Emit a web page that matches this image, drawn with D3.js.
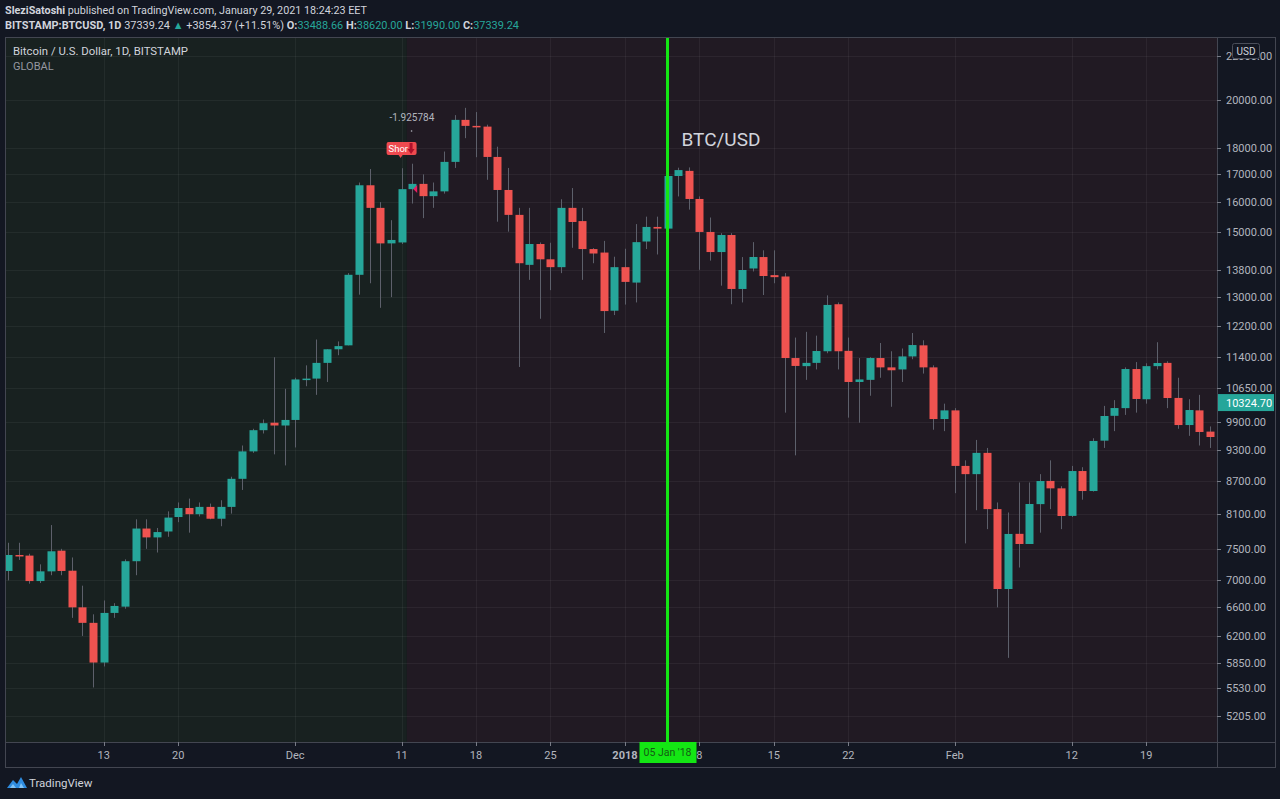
<!DOCTYPE html>
<html><head><meta charset="utf-8">
<script src="https://cdn.jsdelivr.net/npm/d3@7"></script>
<style>html,body{margin:0;padding:0;background:#131722;overflow:hidden}svg{display:block}</style>
</head><body>
<svg id="c" width="1280" height="799"></svg>
<script>
// ---- data ----
const startDate = "2017-11-04", endDate = "2018-02-25";
const opens  = [7146,7400,7390,6990,7140,7470,7150,6600,6380,5850,6520,6610,7300,7840,7690,7790,8040,8200,8090,8220,8010,8220,8740,9280,9720,9880,9820,9940,10860,10880,11260,11600,11700,13650,16600,15800,14620,14650,16460,16650,16210,16380,17470,19150,18900,18870,17660,16430,15560,13950,14600,14120,13880,15800,15350,14440,14330,12620,13880,13420,14680,15155,15100,16940,17130,16110,14990,14346,14890,13234,13840,14190,13640,13600,11380,11180,11260,11550,12800,11560,10800,10850,11380,11150,11100,11420,11700,11150,9960,10150,8990,8830,9250,8180,6870,7750,7580,8270,8700,8560,8060,8890,8510,9500,10030,10200,11110,10400,11180,11260,10430,9830,10150,9690];
const highs  = [7600,7600,7420,7250,7900,7500,7360,6920,6500,6700,6660,7330,8000,8000,7850,8140,8300,8370,8300,8280,8340,8780,9400,9750,9950,11400,10640,10900,11200,11850,11600,11800,13700,16700,17200,16000,15380,17230,17400,17000,16700,17870,19350,19660,19480,18950,18060,17240,15800,15800,14650,14640,16100,16500,15800,14470,14700,14200,14450,15250,15500,15500,17100,17250,17260,16200,15470,14950,14950,14190,14660,14400,14400,13700,11900,12050,11950,13050,12850,11900,11380,11400,11760,11550,11620,12020,11830,11200,10300,10200,9100,9515,9350,8300,8120,8670,8670,8830,9100,8600,8990,8965,9550,10250,10380,11150,11280,11250,11780,11300,10900,10400,10500,9800];
const lows   = [7000,7320,6950,6960,7080,7080,6450,6200,5540,5800,6450,6580,7080,7500,7440,7700,7950,7770,8050,8000,7880,8100,8530,9250,9650,9220,9000,9360,10700,10500,10800,11450,11700,13070,13400,12700,13000,14600,15950,15450,15800,16300,17240,18400,17650,16800,15330,15000,11160,13500,12400,13200,13700,14480,13500,14000,12020,12500,12790,12850,14440,14270,14750,16200,15740,13800,14080,13330,12800,12850,13750,13060,13400,10100,9200,10850,11100,11500,11100,9990,9880,10480,10900,10230,10800,11350,11000,9730,9700,8470,7590,8160,7830,6600,5910,7200,7580,7770,8180,7830,8040,8350,8500,9350,9700,10050,10100,10300,11100,10200,9750,9600,9400,9350];
const closes = [7400,7380,6990,7140,7460,7146,6600,6380,5850,6520,6620,7300,7840,7690,7780,8030,8200,8090,8220,8010,8220,8740,9280,9720,9870,9820,9940,10860,10880,11260,11600,11680,13650,16600,15800,14620,14730,16460,16650,16210,16380,17470,19150,18900,18860,17660,16430,15560,14000,14600,14120,13880,15800,15320,14440,14300,12610,13880,13440,14660,15155,15100,16940,17160,16110,14990,14346,14890,13234,13794,14192,13614,13580,11380,11185,11260,11556,12780,11550,10800,10860,11380,11150,11080,11420,11708,11150,9960,10150,8990,8830,9250,8180,6870,7748,7580,8272,8698,8560,8058,8890,8510,9494,10026,10202,11110,10406,11180,11257,10428,9830,10158,9682,9576];
const priceTicks = [22000,20000,18000,17000,16000,15000,13800,13000,12200,11400,10650,9900,9300,8700,8100,7500,7000,6600,6200,5850,5530,5205];
const dateTicks  = ["2017-11-13","2017-11-20","2017-12-01","2017-12-11","2017-12-18","2017-12-25","2018-01-01","2018-01-08","2018-01-15","2018-01-22","2018-02-01","2018-02-12","2018-02-19"];
const dateTickLabels = ["13","20","Dec","11","18","25","2018","8","15","22","Feb","12","19"];
const markerDate = "2018-01-05", markerLabel = "05 Jan '18";
const splitDate = "2017-12-11";
const lastPrice = 10324.70;
const shortDate = "2017-12-11", shortValue = "-1.925784";

// ---- layout ----
const P = {l:5, r:1217, t:37, b:742, axisB:767, outerR:1275};
const parse = d3.utcParse("%Y-%m-%d");
const days = d3.utcDay.range(parse(startDate), d3.utcDay.offset(parse(endDate),1));
const x = d3.scaleUtc().domain([parse(startDate), parse(endDate)]).range([8, 1210]);
const y = d3.scaleLog().domain([5205, 20000]).range([716, 100]);
const step = x(d3.utcDay.offset(parse(startDate),1)) - x(parse(startDate));
const UP = "#26a69a", DN = "#ef5350";
const svg = d3.select("#c");
const FONT = "Roboto, 'Liberation Sans', sans-serif";

svg.append("rect").attr("width",1280).attr("height",799).attr("fill","#131722");
const splitX = x(parse(splitDate)) + step/2;
svg.append("rect").attr("x",P.l).attr("y",P.t).attr("width",splitX-P.l).attr("height",P.b-P.t).attr("fill","#182120");
svg.append("rect").attr("x",splitX).attr("y",P.t).attr("width",P.r-splitX).attr("height",P.b-P.t).attr("fill","#211a23");

svg.append("clipPath").attr("id","pane").append("rect").attr("x",P.l).attr("y",P.t).attr("width",P.r-P.l).attr("height",P.b-P.t);
const pane = svg.append("g").attr("clip-path","url(#pane)");

// grid
pane.selectAll(".hg").data(priceTicks).join("line")
  .attr("x1",P.l).attr("x2",P.r).attr("y1",d=>Math.round(y(d))+0.5).attr("y2",d=>Math.round(y(d))+0.5)
  .attr("stroke","rgba(255,255,255,0.05)");
pane.selectAll(".vg").data(dateTicks).join("line")
  .attr("x1",d=>Math.round(x(parse(d)))+0.5).attr("x2",d=>Math.round(x(parse(d)))+0.5).attr("y1",P.t).attr("y2",P.b)
  .attr("stroke","rgba(255,255,255,0.05)");

// candles
const candles = days.map((d,i)=>({d,o:opens[i],h:highs[i],l:lows[i],c:closes[i]}));
const bw = 8;
pane.selectAll(".wick").data(candles).join("line")
  .attr("x1",d=>Math.round(x(d.d))+0.5).attr("x2",d=>Math.round(x(d.d))+0.5)
  .attr("y1",d=>y(d.h)).attr("y2",d=>y(d.l)).attr("stroke","#5d606b").attr("stroke-width",1);
pane.selectAll(".body").data(candles).join("rect")
  .attr("x",d=>Math.round(x(d.d))-bw/2+0.5).attr("width",bw)
  .attr("y",d=>y(Math.max(d.o,d.c))).attr("height",d=>Math.max(1.5,Math.abs(y(d.o)-y(d.c))))
  .attr("fill",d=>d.c>=d.o?UP:DN);

// green vertical marker
const mx = x(parse(markerDate));
pane.append("line").attr("x1",mx).attr("x2",mx).attr("y1",P.t).attr("y2",P.b).attr("stroke","#14e614").attr("stroke-width",3);

// BTC/USD text
svg.append("text").attr("x",mx+14).attr("y",146).attr("fill","#d1d4dc").attr("font-family",FONT).attr("font-size",19).text("BTC/USD");

// short signal
const sx = x(parse(shortDate));
svg.append("text").attr("x",sx-12).attr("y",121).attr("fill","#b2b5be").attr("font-family",FONT).attr("font-size",10).text(shortValue);
svg.append("circle").attr("cx",sx+10).attr("cy",131).attr("r",0.8).attr("fill","#b2b5be");
svg.append("rect").attr("x",sx-15).attr("y",142).attr("width",30).attr("height",13).attr("rx",2).attr("fill","#ef4a4f");
svg.append("path").attr("d",`M${sx-3},155 L${sx+1},155 L${sx-1},158 Z`).attr("fill","#ef4a4f");
svg.append("text").attr("x",sx-13).attr("y",152).attr("fill","#fff").attr("font-family",FONT).attr("font-size",9.5).text("Shor");
svg.append("path").attr("d",`M${sx+8},143 L${sx+11},143 L${sx+11},149 L${sx+13},149 L${sx+9.5},154 L${sx+6},149 L${sx+8},149 Z`).attr("fill","#b0102a");
const tx = x(parse(shortDate))+step;
svg.append("path").attr("d",`M${tx+5},185 L${tx+1},189 L${tx+5},193 Z`).attr("fill","#e91e63");

// pane borders
svg.append("rect").attr("x",P.l+0.5).attr("y",P.t+0.5).attr("width",P.outerR-P.l).attr("height",P.axisB-P.t).attr("fill","none").attr("stroke","#434651");
svg.append("line").attr("x1",P.r+0.5).attr("x2",P.r+0.5).attr("y1",P.t).attr("y2",P.axisB).attr("stroke","#434651");
svg.append("line").attr("x1",P.l).attr("x2",P.outerR).attr("y1",P.b+0.5).attr("y2",P.b+0.5).attr("stroke","#434651");

// y axis
const ya = svg.append("g");
ya.selectAll("line").data(priceTicks).join("line")
  .attr("x1",P.r).attr("x2",P.r+4).attr("y1",d=>Math.round(y(d))+0.5).attr("y2",d=>Math.round(y(d))+0.5).attr("stroke","#787b86");
ya.selectAll("text").data(priceTicks).join("text")
  .attr("x",P.r+9).attr("y",d=>y(d)+4).attr("fill","#b2b5be").attr("font-family",FONT).attr("font-size",11)
  .text(d=>d3.format(".2f")(d));
// USD box
svg.append("rect").attr("x",1232.5).attr("y",43.5).attr("width",27).attr("height",15).attr("rx",2).attr("fill","#131722").attr("stroke","#4a4e59");
svg.append("text").attr("x",1246).attr("y",54.5).attr("text-anchor","middle").attr("fill","#d1d4dc").attr("font-family",FONT).attr("font-size",10).text("USD");
// last price
svg.append("rect").attr("x",P.r+1).attr("y",y(lastPrice)-8.5).attr("width",56).attr("height",17).attr("fill",UP);
svg.append("text").attr("x",P.r+9).attr("y",y(lastPrice)+4).attr("fill","#fff").attr("font-family",FONT).attr("font-size",11).text(d3.format(".2f")(lastPrice));

// x axis
const xa = svg.append("g");
xa.selectAll("line").data(dateTicks).join("line")
  .attr("x1",d=>Math.round(x(parse(d)))+0.5).attr("x2",d=>Math.round(x(parse(d)))+0.5).attr("y1",P.b).attr("y2",P.b+4).attr("stroke","#787b86");
xa.selectAll("text").data(dateTicks).join("text")
  .attr("x",d=>x(parse(d))).attr("y",759).attr("text-anchor","middle").attr("fill","#b2b5be").attr("font-family",FONT).attr("font-size",11)
  .attr("font-weight",(d,i)=>(dateTickLabels[i]==="2018")?"bold":"normal")
  .text((d,i)=>dateTickLabels[i]);
svg.append("rect").attr("x",mx-28).attr("y",P.b).attr("width",57).attr("height",21).attr("fill","#14e614");
svg.append("text").attr("x",mx).attr("y",756).attr("text-anchor","middle").attr("fill","#145a14").attr("font-family",FONT).attr("font-size",10.5).text(markerLabel);

// header
const h1 = svg.append("text").attr("x",5).attr("y",14).attr("fill","#d1d4dc").attr("font-family",FONT).attr("font-size",11)
  .attr("textLength",362).attr("lengthAdjust","spacingAndGlyphs");
h1.append("tspan").attr("font-weight","bold").text("SleziSatoshi");
h1.append("tspan").text(" published on TradingView.com, January 29, 2021 18:24:23 EET");
const h2 = svg.append("text").attr("x",5).attr("y",29).attr("fill","#d1d4dc").attr("font-family",FONT).attr("font-size",11)
  .attr("textLength",514).attr("lengthAdjust","spacingAndGlyphs");
[["BITSTAMP:BTCUSD, 1D ","#d1d4dc","bold"],["37339.24 ","#d1d4dc","normal"],["▲","#26a69a","normal"],[" +3854.37 (+11.51%) ","#d1d4dc","normal"],
 ["O:","#d1d4dc","bold"],["33488.66 ","#26a69a","normal"],["H:","#d1d4dc","bold"],["38620.00 ","#26a69a","normal"],
 ["L:","#d1d4dc","bold"],["31990.00 ","#26a69a","normal"],["C:","#d1d4dc","bold"],["37339.24","#26a69a","normal"]]
 .forEach(([t,c,w])=>h2.append("tspan").attr("fill",c).attr("font-weight",w).text(t));

// pane legend
svg.append("text").attr("x",13).attr("y",55).attr("fill","#d1d4dc").attr("font-family",FONT).attr("font-size",11)
  .attr("textLength",175).attr("lengthAdjust","spacingAndGlyphs").text("Bitcoin / U.S. Dollar, 1D, BITSTAMP");
svg.append("text").attr("x",13).attr("y",70).attr("fill","#9598a1").attr("font-family",FONT).attr("font-size",11).text("GLOBAL");

// TradingView logo
const lg = svg.append("g").attr("transform","translate(7,775)");
lg.append("path").attr("d","M0,13 L6,5 L10,9 L14,2 L20,13 Z").attr("fill","#2f8ce0");
lg.append("path").attr("d","M3,13 L6,9 L9,13 Z M12,13 L14,8 L17,13 Z").attr("fill","#7fc2f5");
svg.append("text").attr("x",29).attr("y",787).attr("fill","#d1d4dc").attr("font-family",FONT).attr("font-size",11.5).text("TradingView");
</script>
</body></html>
